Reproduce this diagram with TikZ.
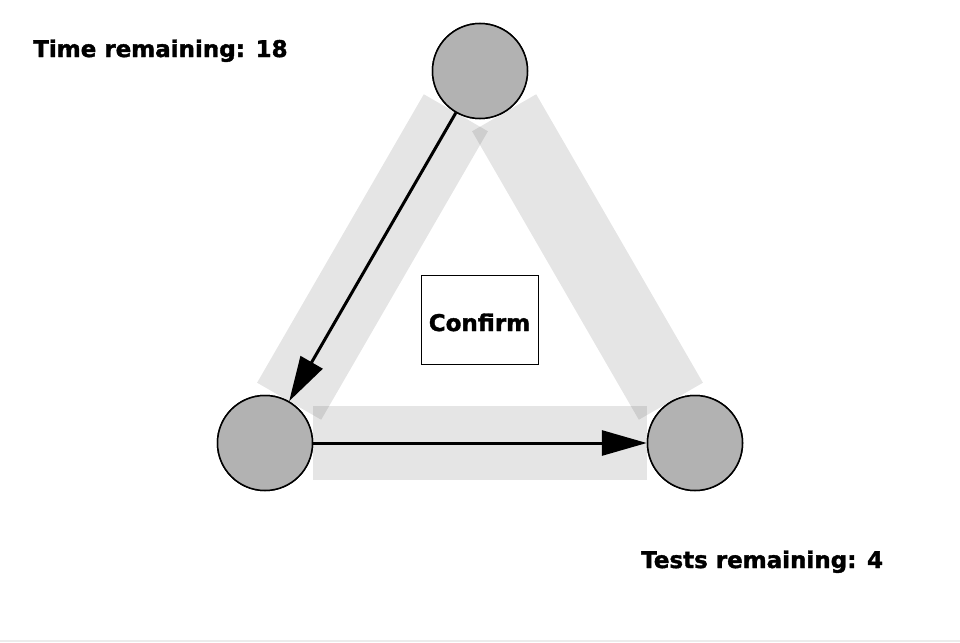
\documentclass[tikz,border=0pt]{standalone}
\usepackage{fontspec}
\setmainfont{DejaVu Sans}[BoldFeatures={FakeBold=1.6}]
\usetikzlibrary{arrows.meta}
\tikzset{
  vertex/.style={circle, draw=black, line width=1.5pt, fill=vgray, minimum size=95pt, inner sep=0pt},
  band/.style={draw=black, draw opacity=0.1, line width=74pt, line cap=butt},
  conn/.style={draw=black, line width=3pt, -{Triangle[length=45pt,width=25pt]}},
  label/.style={font=\fontsize{23pt}{26pt}\selectfont\bfseries, anchor=base west, inner sep=0pt},
  confirmbox/.style={draw=black, line width=0.8pt, fill=white, minimum width=117pt, minimum height=89pt, inner sep=0pt},
  confirmtext/.style={font=\fontsize{23pt}{26pt}\selectfont\bfseries, anchor=base, inner sep=0pt}
}
\definecolor{vgray}{gray}{0.70}
\begin{document}
\begin{tikzpicture}[x=1pt,y=-1pt]
\useasboundingbox (0,0) rectangle (960,642);
\fill[gray!15] (0,640) rectangle (960,642);
\node[vertex] (top) at (480,71) {};
\node[vertex] (bl) at (265,443) {};
\node[vertex] (br) at (695,443) {};
\draw[band] (top) -- (bl);
\draw[band] (top) -- (br);
\draw[band] (bl) -- (br);
\node[vertex] at (top) {};
\node[vertex] at (bl) {};
\node[vertex] at (br) {};
\node[confirmbox] (confirm) at (479.5,319.5) {};
\node[confirmtext] (confirmlabel) at (479.5,331) {Confirm};
\draw[conn] (top) -- (bl);
\draw[conn] (bl) -- (br);
\node[label] (time) at (33,57) {Time remaining: 18};
\node[label] (tests) at (641,568) {Tests remaining: 4};
\end{tikzpicture}
\end{document}
